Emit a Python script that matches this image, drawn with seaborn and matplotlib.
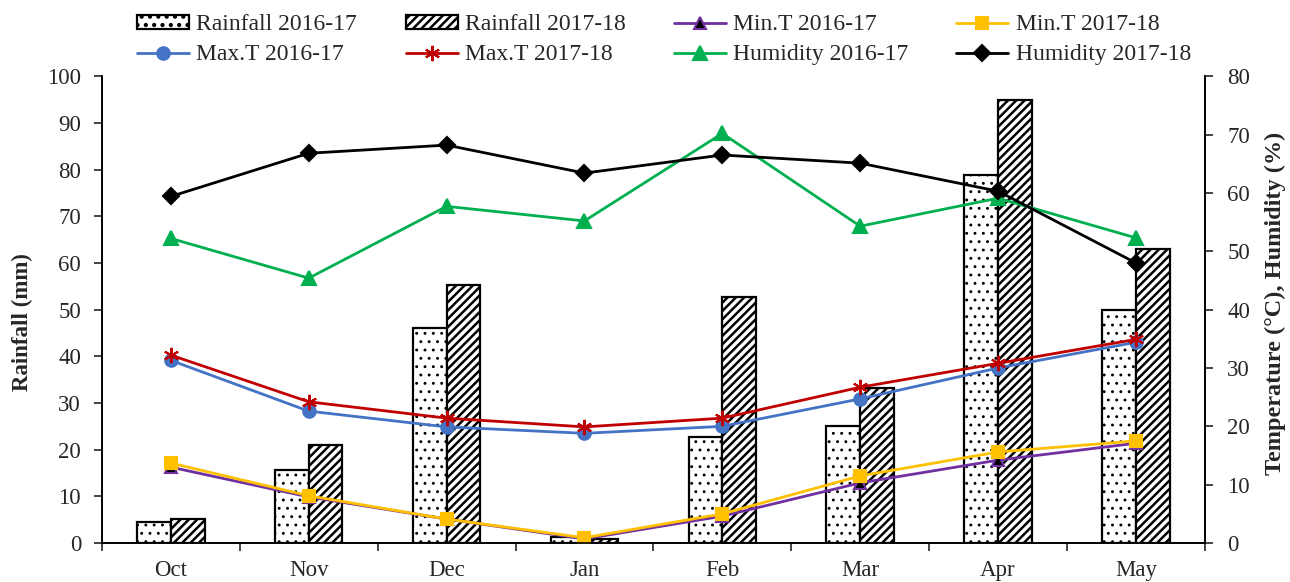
import numpy as np
import pandas as pd
import matplotlib
matplotlib.use("Agg")
import matplotlib.pyplot as plt
import matplotlib.patches as mpatches
import seaborn as sns

months = ['Oct', 'Nov', 'Dec', 'Jan', 'Feb', 'Mar', 'Apr', 'May']

rain_1617 = [4.6, 15.6, 46.0, 1.3, 22.8, 25.1, 78.8, 50.0]
rain_1718 = [5.2, 20.9, 55.2, 0.9, 52.7, 33.2, 94.9, 63.0]

mint_1617 = [13.0, 7.9, 4.1, 0.7, 4.6, 10.3, 14.2, 17.1]
mint_1718 = [13.7, 8.1, 4.1, 0.9, 5.0, 11.5, 15.6, 17.5]
maxt_1617 = [31.3, 22.6, 19.9, 18.8, 20.0, 24.7, 30.0, 34.4]
maxt_1718 = [32.2, 24.2, 21.4, 19.9, 21.4, 26.7, 30.8, 34.9]
hum_1617 = [52.2, 45.4, 57.7, 55.2, 70.2, 54.3, 59.1, 52.3]
hum_1718 = [59.4, 66.8, 68.2, 63.4, 66.5, 65.1, 60.3, 48.0]

sns.set_style("ticks")
plt.rcParams['font.family'] = ['Liberation Serif', 'DejaVu Serif']
plt.rcParams['hatch.linewidth'] = 1.8

FS = 16.5

rain = pd.DataFrame({
    'month': months * 2,
    'rain': rain_1617 + rain_1718,
    'season': ['Rainfall 2016-17'] * 8 + ['Rainfall 2017-18'] * 8,
})

fig = plt.figure(figsize=(12.9, 5.82), dpi=100)
ax = fig.add_axes([0.079, 0.067, 0.855, 0.802])

sns.barplot(data=rain, x='month', y='rain', hue='season', order=months,
            palette={'Rainfall 2016-17': 'white', 'Rainfall 2017-18': 'white'},
            edgecolor='black', linewidth=1.6, width=0.49, ax=ax, legend=False)
hatches = ['..', '////']
hatch_lw = [0.9, 1.8]


def style_hatch(p, h, lw):
    p.set_hatch(h)
    if hasattr(p, 'set_hatch_linewidth'):
        p.set_hatch_linewidth(lw)


for cont, h, lw in zip(ax.containers, hatches, hatch_lw):
    for bar in cont:
        style_hatch(bar, h, lw)

ax2 = ax.twinx()
x = np.arange(len(months))
series = [
    ('Min.T 2016-17', mint_1617, '#7030A0', '^', 'black', 8),
    ('Min.T 2017-18', mint_1718, '#FFC000', 's', '#FFC000', 9),
    ('Max.T 2016-17', maxt_1617, '#4472C4', 'o', '#4472C4', 9),
    ('Max.T 2017-18', maxt_1718, '#C00000', (6, 2, 0), '#C00000', 11),
    ('Humidity 2016-17', hum_1617, '#00B050', '^', '#00B050', 10),
    ('Humidity 2017-18', hum_1718, 'black', 'D', 'black', 8),
]
for name, vals, col, mk, mfc, ms in series:
    sns.lineplot(x=x, y=vals, ax=ax2, color=col, marker=mk, markersize=ms,
                 markerfacecolor=mfc, markeredgecolor=col, markeredgewidth=1.5,
                 linewidth=2, label=name)

ax.set_xlim(-0.5, 7.5)
ax.set_ylim(0, 100)
ax.set_yticks(range(0, 101, 10))
ax2.set_ylim(0, 80)
ax2.set_yticks(range(0, 81, 10))

ax.set_xticks(x)
ax.set_xticklabels(months)
ax.set_xticks(np.arange(-0.5, 8, 1), minor=True)
ax.tick_params(axis='x', which='major', length=0, pad=12, labelsize=FS)
ax.tick_params(axis='x', which='minor', length=6, width=1.2, direction='out')
ax.tick_params(axis='y', length=6, width=1.2, pad=9, labelsize=FS)
ax2.tick_params(axis='y', length=6, width=1.2, pad=10, labelsize=FS)

ax.set_xlabel('')
ax.set_ylabel('Rainfall (mm)', fontsize=FS, fontweight='bold')
ax2.set_ylabel('Temperature (°C), Humidity (%)', fontsize=17.5, fontweight='bold')
ax.yaxis.set_label_coords(-0.0626, 0.473)
ax2.yaxis.set_label_coords(1.0544, 0.514)

for a in (ax, ax2):
    a.spines['top'].set_visible(False)
    for s in ('left', 'right', 'bottom'):
        a.spines[s].set_linewidth(1.2)
        a.spines[s].set_color('black')

ax2.get_legend().remove()
bar_handles = []
for h, lw, l in zip(hatches, hatch_lw, ['Rainfall 2016-17', 'Rainfall 2017-18']):
    p = mpatches.Patch(facecolor='white', edgecolor='black', linewidth=1.6, label=l)
    style_hatch(p, h, lw)
    bar_handles.append(p)
lh, ll = ax2.get_legend_handles_labels()
d = dict(zip(ll, lh))
handles = [bar_handles[0], d['Max.T 2016-17'], bar_handles[1], d['Max.T 2017-18'],
           d['Min.T 2016-17'], d['Humidity 2016-17'], d['Min.T 2017-18'], d['Humidity 2017-18']]
labels = [h.get_label() for h in handles]
fig.legend(handles, labels, ncol=4, loc='upper left', bbox_to_anchor=(128 / 1290, 1 - 5 / 582),
           borderaxespad=0, frameon=False, fontsize=17, handlelength=2.2,
           handleheight=0.55, columnspacing=2.05, handletextpad=0.3, labelspacing=0.38)

fig.savefig('out.png', dpi=100)
